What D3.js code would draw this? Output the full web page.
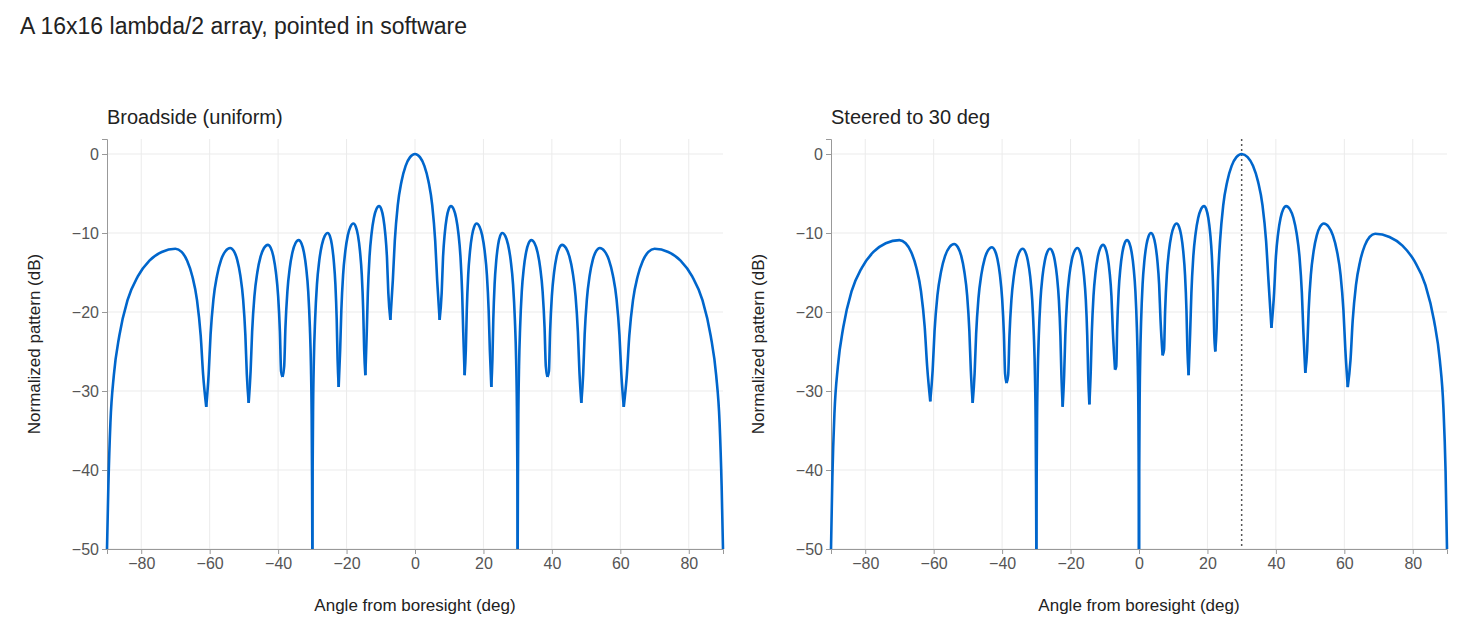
<!DOCTYPE html><html><head><meta charset="utf-8">
<script src="https://cdn.jsdelivr.net/npm/d3@7"></script>
<style>body{margin:0;background:#fff}text{font-family:"Liberation Sans",Arial,sans-serif}</style></head><body>
<svg id="c" width="1472" height="640"></svg>
<script>
const xTicks=[-80,-60,-40,-20,0,20,40,60,80];
const yTicks=[0,-10,-20,-30,-40,-50];
// nulls [angle, dB] and lobe peaks [angle, dB]
const broadNulls=[[-90,-50],[-61,-32],[-48.6,-31.5],[-38.7,-28.2],[-30,-50],[-22.3,-29.5],[-14.5,-28],[-7.2,-21],[7.2,-21],[14.5,-28],[22.3,-29.5],[30,-50],[38.7,-28.2],[48.6,-31.5],[61,-32],[90,-50]];
const broadPeaks=[[-70,-12],[-54,-11.9],[-43,-11.5],[-34,-10.9],[-25.5,-10],[-18,-8.8],[-10.5,-6.6],[0,0],[10.5,-6.6],[18,-8.8],[25.5,-10],[34,-10.9],[43,-11.5],[54,-11.9],[70,-12]];
const steerNulls=[[-90,-50],[-61,-31.3],[-48.6,-31.5],[-38.7,-29],[-30,-50],[-22.3,-32],[-14.5,-31.7],[-7,-27.3],[0,-50],[6.9,-25.5],[14.5,-28],[22.3,-25],[38.7,-22],[48.6,-27.7],[61,-29.5],[90,-50]];
const steerPeaks=[[-70,-10.9],[-54,-11.4],[-43,-11.8],[-34,-12],[-26,-12],[-18,-11.9],[-10.5,-11.5],[-3.5,-10.9],[3.5,-10],[11,-8.8],[19,-6.6],[30,0],[43,-6.6],[54,-8.8],[69,-10.1]];
const titles=["Broadside (uniform)","Steered to 30 deg"];
const svg=d3.select("#c");
svg.append("text").attr("x",20).attr("y",34).attr("font-size",23).attr("fill","#222").text("A 16x16 lambda/2 array, pointed in software");
// lobe outline shape: fraction of way from null to peak -> dB below peak
const shape=[[0.02,-30],[0.05,-22],[0.1,-16],[0.18,-11],[0.3,-6.5],[0.45,-3.5],[0.62,-1.5],[0.8,-0.4]];
function lobes(nulls,peaks){
  const out=[];
  for(let i=0;i<peaks.length;i++){
    const a=nulls[i],b=nulls[i+1],p=peaks[i];
    const pts=[a];
    shape.forEach(([f,d])=>{const v=p[1]+d; if(v>a[1]) pts.push([a[0]+f*(p[0]-a[0]),v]);});
    pts.push(p);
    shape.slice().reverse().forEach(([f,d])=>{const v=p[1]+d; if(v>b[1]) pts.push([b[0]+f*(p[0]-b[0]),v]);});
    pts.push(b);
    out.push(pts);
  }
  return out;
}
function panel(x0,title,nulls,peaks,steer){
  const x=d3.scaleLinear().domain([-90,90]).range([x0,x0+616]);
  const y=d3.scaleLinear().domain([-50,1.9]).range([549,139]);
  const g=svg.append("g");
  g.append("g").selectAll("line").data(xTicks).join("line").attr("x1",d=>x(d)).attr("x2",d=>x(d)).attr("y1",139).attr("y2",549).attr("stroke","#ebebeb");
  g.append("g").selectAll("line").data(yTicks).join("line").attr("x1",x0).attr("x2",x0+616).attr("y1",d=>y(d)).attr("y2",d=>y(d)).attr("stroke","#ebebeb");
  const xa=g.append("g").attr("transform","translate(0,549)").call(d3.axisBottom(x).tickValues(xTicks).tickSize(5).tickPadding(4).tickFormat(d=>d<0?"\u2212"+(-d):d));
  const ya=g.append("g").attr("transform",`translate(${x0},0)`).call(d3.axisLeft(y).tickValues(yTicks).tickSize(5).tickFormat(d=>d<0?"\u2212"+(-d):d));
  [xa,ya].forEach(a=>{a.selectAll("path,line").attr("stroke","#999");a.selectAll("text").attr("font-size",16).attr("fill","#555").attr("font-family","Liberation Sans, Arial");});
  if(steer) g.append("line").attr("x1",x(30)).attr("x2",x(30)).attr("y1",139).attr("y2",549).attr("stroke","#555").attr("stroke-width",1.5).attr("stroke-dasharray","2,3");
  const line=d3.line().x(d=>x(d[0])).y(d=>y(Math.max(d[1],-50))).curve(d3.curveMonotoneX);
  g.append("g").selectAll("path").data(lobes(nulls,peaks)).join("path").attr("d",line).attr("fill","none").attr("stroke","#0066cc").attr("stroke-width",2.6);
  g.append("text").attr("x",x0).attr("y",124).attr("font-size",20).attr("fill","#222").text(title);
  g.append("text").attr("x",x0+308).attr("y",611).attr("text-anchor","middle").attr("font-size",17).attr("fill","#222").text("Angle from boresight (deg)");
  g.append("text").attr("transform",`translate(${x0-67},344) rotate(-90)`).attr("text-anchor","middle").attr("font-size",17).attr("fill","#222").text("Normalized pattern (dB)");
}
panel(107,titles[0],broadNulls,broadPeaks,false);
panel(831,titles[1],steerNulls,steerPeaks,true);
</script></body></html>
